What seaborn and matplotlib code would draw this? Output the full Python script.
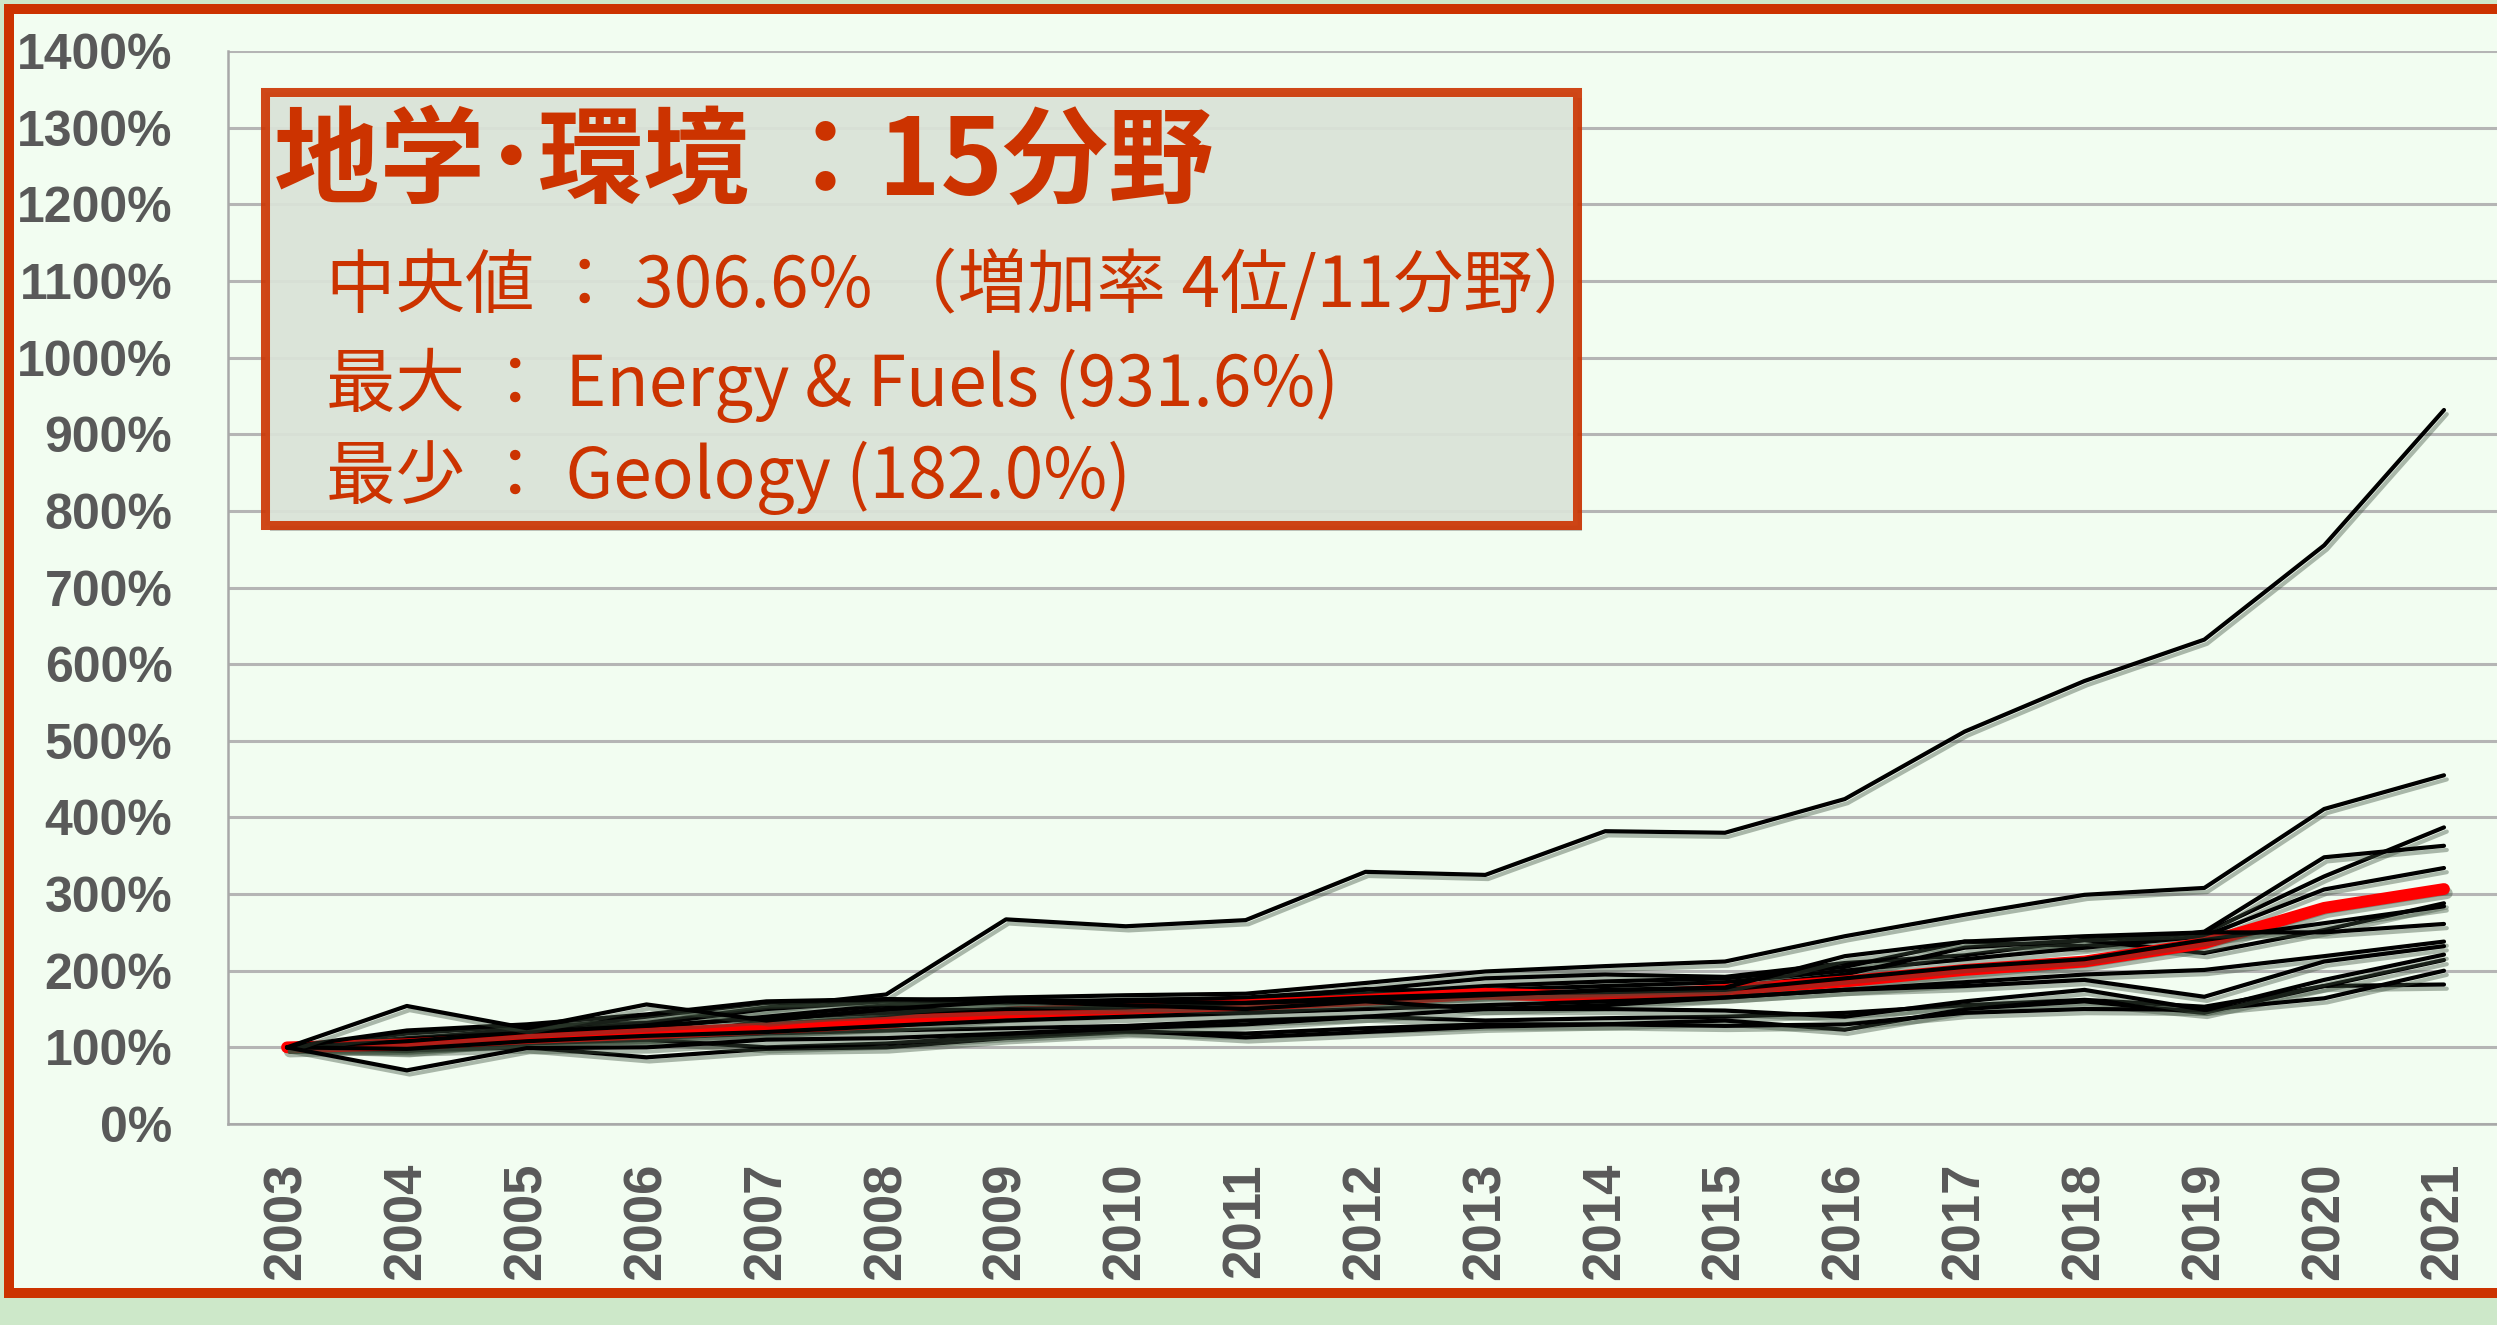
import numpy as np
import pandas as pd
import matplotlib
matplotlib.use("Agg")
import matplotlib.pyplot as plt
import matplotlib.patheffects as pe
from matplotlib.patches import Rectangle
import seaborn as sb

# 年
years = list(range(2003, 2022))

# 2003年を100%とした各分野の推移
energy_fuels = [100, 118, 128, 132, 152, 169, 267, 258, 266, 329, 325, 382, 380, 424, 512, 578, 632, 755, 931.6]
field_b = [100, 110, 125, 130, 150, 160, 165, 168, 170, 184, 199, 206, 212, 245, 273, 299, 308, 411, 455]
field_c = [100, 105, 118, 125, 140, 155, 160, 160, 165, 175, 190, 195, 192, 210, 220, 240, 249, 323, 387]
field_d = [100, 112, 122, 140, 158, 162, 158, 162, 164, 170, 180, 186, 190, 205, 238, 232, 251, 348, 363]
field_e = [100, 95, 110, 118, 130, 140, 150, 155, 160, 168, 175, 180, 185, 200, 215, 230, 245, 306, 334]
field_f = [100, 104, 112, 120, 125, 135, 140, 148, 152, 160, 168, 170, 178, 185, 198, 212, 236, 282, 306.6]
field_g = [100, 102, 115, 110, 135, 150, 148, 158, 162, 176, 172, 165, 178, 195, 230, 240, 223, 253, 288]
field_h = [100, 108, 120, 128, 138, 145, 150, 152, 158, 165, 170, 172, 175, 190, 205, 215, 240, 262, 284]
field_i = [100, 122, 130, 143, 160, 163, 162, 160, 158, 162, 168, 175, 178, 219, 238, 245, 250, 250, 261]
field_j = [100, 98, 108, 115, 120, 128, 135, 140, 145, 150, 155, 160, 165, 175, 185, 195, 201, 219, 238]
field_k = [100, 154, 125, 156, 135, 150, 160, 155, 150, 160, 150, 155, 165, 175, 180, 188, 166, 212, 232]
field_l = [100, 70, 99, 100, 110, 112, 118, 125, 130, 140, 150, 150, 148, 140, 160, 175, 149, 188, 221]
field_m = [100, 96, 100, 87, 98, 100, 112, 120, 118, 125, 130, 130, 135, 123, 150, 160, 145, 180, 214]
field_n = [100, 100, 105, 110, 100, 105, 115, 122, 113, 120, 127, 130, 128, 130, 145, 150, 149, 164, 200]
geology = [100, 105, 108, 112, 118, 122, 125, 128, 135, 140, 135, 138, 140, 145, 155, 162, 153, 180, 182.0]

# 中央値
median_line = [100, 104, 112, 118, 125, 132, 145, 150, 155, 162, 170, 166, 175, 186, 201, 212, 236, 282, 306.6]

y_ticks = list(range(0, 1401, 100))
y_labels = [f"{v}%" for v in y_ticks]

title = "地学･環境 ：15分野"
info_lines = ["中央値 ： 306.6% （増加率 4位/11分野）",
              "最大 ： Energy & Fuels (931.6%)",
              "最少 ： Geology (182.0%)"]

series_under = {"Energy & Fuels": energy_fuels, "b": field_b, "c": field_c, "d": field_d,
                "e": field_e, "f": field_f, "g": field_g, "m": field_m, "n": field_n,
                "Geology": geology}
series_over = {"h": field_h, "i": field_i, "j": field_j, "k": field_k, "l": field_l}


def to_long(d):
    return pd.DataFrame([(name, y, v) for name, vals in d.items() for y, v in zip(years, vals)],
                        columns=["field", "year", "value"])


df_under = to_long(series_under)
df_over = to_long(series_over)
df_med = pd.DataFrame({"year": years, "value": median_line})

W, H = 2497, 1325
RED = "#cc3300"
GRAY = "#595959"

sb.set_theme(style="whitegrid")
plt.rcParams['font.family'] = ['Liberation Sans', 'Noto Sans CJK JP', 'DejaVu Sans']

fig = plt.figure(figsize=(W / 100, H / 100), dpi=100)
fig.patch.set_facecolor("#cde8c9")

# 枠
fig.add_artist(Rectangle((9 / W, (H - 1293) / H), (2700 - 9) / W, (1293 - 9) / H,
                         transform=fig.transFigure, facecolor="#f2fdf1",
                         edgecolor=RED, lw=7.2, zorder=-1))

ax = fig.add_axes([228 / W, (H - 1124) / H, (W - 228) / W, (1124 - 51) / H])
ax.set_facecolor("none")

sb.lineplot(data=df_under, x="year", y="value", units="field", estimator=None, ax=ax,
            color="black", linewidth=3.0)
for ln in ax.lines:
    ln.set_zorder(3)
n0 = len(ax.lines)
sb.lineplot(data=df_med, x="year", y="value", ax=ax, color="#ff0000", linewidth=8.5)
med = ax.lines[-1]
med.set_linewidth(8.5)
med.set_solid_capstyle("round")
med.set_zorder(4)
sb.lineplot(data=df_over, x="year", y="value", units="field", estimator=None, ax=ax,
            color="black", linewidth=3.0)
for ln in ax.lines[n0 + 1:]:
    ln.set_zorder(5)
for ln in ax.lines:
    ln.set_path_effects([pe.SimpleLineShadow(offset=(2, -3), shadow_color="#3d503d", alpha=0.4),
                         pe.Normal()])

ax.set_xlim(2003 - 59 / 119.83, 2021 + 53 / 119.83)
ax.set_ylim(0, 1400)
ax.set_yticks(y_ticks)
ax.set_yticklabels(y_labels, fontsize=36, fontweight="bold", color=GRAY)
ax.set_xticks(years)
ax.set_xticklabels([str(y) for y in years], rotation=90, fontsize=38,
                   fontweight="bold", color=GRAY)
ax.tick_params(axis="y", length=0, pad=40)
ax.tick_params(axis="x", length=0, pad=28)
ax.set_xlabel("")
ax.set_ylabel("")
ax.grid(axis="x", visible=False)
ax.grid(axis="y", color="#b5b5b5", lw=2.2)
for s in ["top", "right"]:
    ax.spines[s].set_visible(False)
for s in ["left", "bottom"]:
    ax.spines[s].set_color("#a8a8a8")
    ax.spines[s].set_linewidth(1.8)

# テキストボックス
box = Rectangle((264.5 / W, (H - 525.5) / H), (1576.5 - 264.5) / W, (525.5 - 92.5) / H,
                transform=fig.transFigure, facecolor="#dfe8dd", alpha=0.9,
                edgecolor=RED, lw=6.5, zorder=5)
box.set_path_effects([pe.SimplePatchShadow(offset=(4, -4), alpha=0.3), pe.Normal()])
fig.add_artist(box)

fig.text(274 / W, 1 - 164 / H, title, fontsize=76, fontweight="bold", color=RED,
         family=["Noto Sans CJK JP", "DejaVu Sans"], ha="left", va="center", zorder=6)
for txt, yy in zip(info_lines, [287, 385, 478]):
    fig.text(326 / W, 1 - yy / H, txt, fontsize=50, color=RED,
             family=["Noto Sans CJK JP", "DejaVu Sans"],
             ha="left", va="center", zorder=6)

fig.savefig("out.png", dpi=100, facecolor=fig.get_facecolor())
